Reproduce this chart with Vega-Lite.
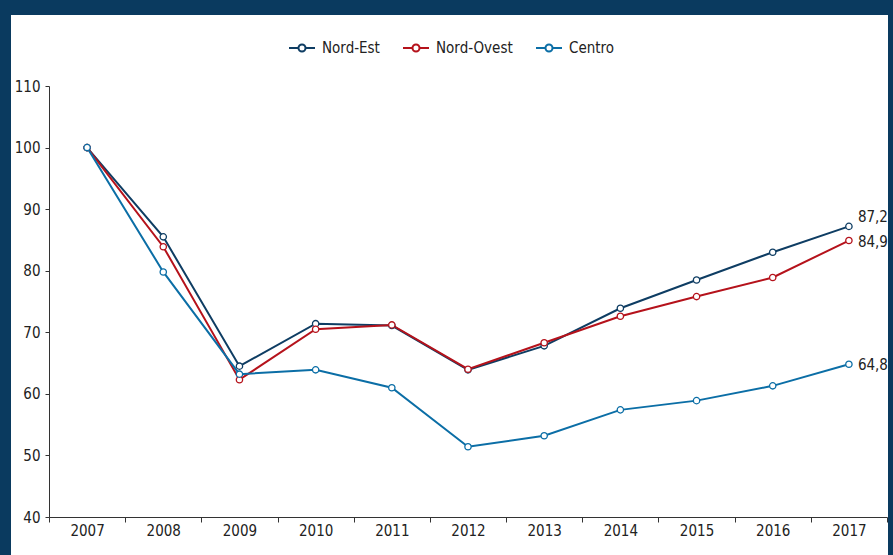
{
  "$schema": "https://vega.github.io/schema/vega-lite/v6.json",
  "width": 877,
  "height": 540,
  "autosize": {"type": "none"},
  "padding": {"left": 11, "top": 15, "right": 5, "bottom": 0},
  "background": "#0a3a5f",
  "config": {
    "view": {"fill": "white", "stroke": null},
    "font": "DejaVu Sans Condensed, sans-serif",
    "locale": {"number": {"decimal": ",", "thousands": ".", "grouping": [3], "currency": ["", " €"]}}
  },
  "data": {
    "values": [
      {"year": "2007", "region": "Nord-Est", "value": 100},
      {"year": "2008", "region": "Nord-Est", "value": 85.5},
      {"year": "2009", "region": "Nord-Est", "value": 64.5},
      {"year": "2010", "region": "Nord-Est", "value": 71.4},
      {"year": "2011", "region": "Nord-Est", "value": 71.1},
      {"year": "2012", "region": "Nord-Est", "value": 63.9},
      {"year": "2013", "region": "Nord-Est", "value": 67.8},
      {"year": "2014", "region": "Nord-Est", "value": 73.9},
      {"year": "2015", "region": "Nord-Est", "value": 78.5},
      {"year": "2016", "region": "Nord-Est", "value": 83.0},
      {"year": "2017", "region": "Nord-Est", "value": 87.2},
      {"year": "2007", "region": "Nord-Ovest", "value": 100},
      {"year": "2008", "region": "Nord-Ovest", "value": 83.9},
      {"year": "2009", "region": "Nord-Ovest", "value": 62.3},
      {"year": "2010", "region": "Nord-Ovest", "value": 70.5},
      {"year": "2011", "region": "Nord-Ovest", "value": 71.2},
      {"year": "2012", "region": "Nord-Ovest", "value": 64.0},
      {"year": "2013", "region": "Nord-Ovest", "value": 68.3},
      {"year": "2014", "region": "Nord-Ovest", "value": 72.6},
      {"year": "2015", "region": "Nord-Ovest", "value": 75.8},
      {"year": "2016", "region": "Nord-Ovest", "value": 78.9},
      {"year": "2017", "region": "Nord-Ovest", "value": 84.9},
      {"year": "2007", "region": "Centro", "value": 100},
      {"year": "2008", "region": "Centro", "value": 79.8},
      {"year": "2009", "region": "Centro", "value": 63.2},
      {"year": "2010", "region": "Centro", "value": 63.9},
      {"year": "2011", "region": "Centro", "value": 61.0},
      {"year": "2012", "region": "Centro", "value": 51.4},
      {"year": "2013", "region": "Centro", "value": 53.2},
      {"year": "2014", "region": "Centro", "value": 57.4},
      {"year": "2015", "region": "Centro", "value": 58.9},
      {"year": "2016", "region": "Centro", "value": 61.3},
      {"year": "2017", "region": "Centro", "value": 64.8}
    ]
  },
  "encoding": {
    "x": {
      "field": "year",
      "type": "ordinal",
      "bandPosition": 0.5,
      "scale": {"type": "band", "range": [38, 876], "paddingInner": 0, "paddingOuter": 0},
      "axis": {
        "title": null,
        "orient": "bottom",
        "offset": -38,
        "tickBand": "extent",
        "labelAngle": 0,
        "labelFontSize": 15,
        "labelColor": "#222222",
        "domainColor": "#333333",
        "tickColor": "#333333",
        "tickSize": 5,
        "labelPadding": 1,
        "grid": false
      }
    },
    "y": {
      "field": "value",
      "type": "quantitative",
      "scale": {"domain": [40, 110], "range": [502, 71], "nice": false, "zero": false},
      "axis": {
        "title": null,
        "offset": -38,
        "values": [40, 50, 60, 70, 80, 90, 100, 110],
        "grid": false,
        "tickSize": 4,
        "labelPadding": 5,
        "labelFontSize": 15,
        "labelColor": "#222222",
        "domainColor": "#333333",
        "tickColor": "#333333"
      }
    }
  },
  "layer": [
    {
      "mark": {
        "type": "line",
        "strokeWidth": 2,
        "point": {"filled": false, "fill": "white", "size": 40, "strokeWidth": 1.3}
      },
      "encoding": {
        "color": {
          "field": "region",
          "type": "nominal",
          "sort": ["Nord-Est", "Nord-Ovest", "Centro"],
          "scale": {"domain": ["Nord-Est", "Nord-Ovest", "Centro"], "range": ["#0e3d63", "#b5121b", "#0b6ea6"]},
          "legend": {
            "title": null,
            "orient": "none",
            "legendX": 277,
            "legendY": 19,
            "direction": "horizontal",
            "symbolType": "M-1,0L-0.27,0M0.27,0L1,0M-0.27,0A0.27,0.27,0,1,0,0.27,0A0.27,0.27,0,1,0,-0.27,0Z",
            "symbolSize": 676,
            "symbolStrokeWidth": 2,
            "symbolFillColor": "white",
            "labelFontSize": 15,
            "labelColor": "#222222",
            "labelOffset": 6,
            "columnPadding": 19
          }
        }
      }
    },
    {
      "transform": [{"filter": "datum.year == '2017' && datum.region == 'Nord-Est'"}],
      "mark": {"type": "text", "align": "left", "baseline": "middle", "dx": 9, "dy": -9, "fontSize": 15, "color": "#222222"},
      "encoding": {"text": {"field": "value", "type": "quantitative", "format": ".1f"}}
    },
    {
      "transform": [{"filter": "datum.year == '2017' && datum.region != 'Nord-Est'"}],
      "mark": {"type": "text", "align": "left", "baseline": "middle", "dx": 9, "dy": 1, "fontSize": 15, "color": "#222222"},
      "encoding": {"text": {"field": "value", "type": "quantitative", "format": ".1f"}}
    }
  ]
}
